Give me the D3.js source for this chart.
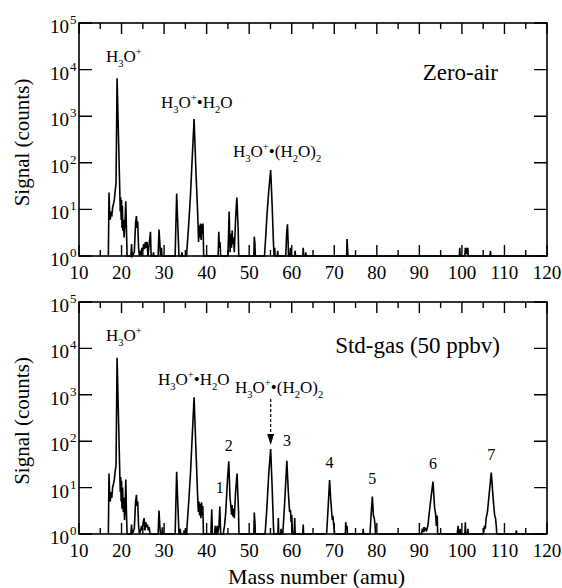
<!DOCTYPE html>
<html>
<head>
<meta charset="utf-8">
<script src="https://cdn.jsdelivr.net/npm/d3@7"></script>
<style>
  body { margin: 0; background: #fff; }
  text { font-family: 'Liberation Serif', 'Times New Roman', Times, 'DejaVu Serif', serif; }
</style>
</head>
<body>
<div id="chart"></div>
<script>
// x ticks (amu) and y decades
const massTicks = [10, 20, 30, 40, 50, 60, 70, 80, 90, 100, 110, 120];
const decades = [0, 1, 2, 3, 4, 5];

// Zero-air spectrum (values < 1 sit on the axis floor)
const zeroMass = [
  16.9, 17.05, 17.2, 17.35, 17.5, 17.7, 17.9, 18.1, 18.3, 18.5, 18.7, 18.95,
  19.6, 19.7, 19.8, 19.9, 20.0, 20.1, 20.2, 20.3, 20.45, 20.6, 20.8, 21.0, 21.15, 21.3,
  22.2, 22.35, 22.5, 23.0, 23.3, 23.5, 23.65, 23.8, 24.0, 24.2, 24.4, 24.6, 24.8, 25.0,
  25.2, 25.4, 25.6, 25.8, 26.0, 26.2, 26.8, 26.95, 27.4, 27.5, 27.6, 28.6, 28.8, 29.0,
  29.15, 29.4, 29.5, 32.6, 32.95, 33.3, 33.5, 34.1, 34.2, 34.3, 35.3, 35.4, 35.8, 36.2,
  36.6, 37.05, 37.5, 37.9, 38.1, 38.25, 38.4, 38.55, 38.7, 38.85, 39.0, 39.15, 39.3,
  42.7, 42.85, 43.0, 43.15, 43.3, 45.0, 45.3, 45.5, 45.7, 45.85, 46.0, 46.15, 46.3,
  46.5, 46.8, 47.1, 47.4, 47.55, 51.1, 51.2, 51.35, 51.45, 53.6, 53.9, 54.2, 54.6,
  55.05, 55.4, 55.7, 55.85, 56.0, 56.1, 56.6, 56.7, 56.8, 58.6, 58.8, 59.0, 59.15,
  59.25, 59.6, 59.7, 59.8, 60.7, 60.8, 60.9, 62.6, 62.7, 62.8, 63.2, 63.3, 63.4,
  72.9, 73.0, 73.15, 73.25, 99.4, 99.5, 99.6, 100.7, 100.8, 100.9, 101.0, 101.1,
  101.2, 101.3, 101.4, 101.5, 106.6, 106.7, 106.8, 120
];
const zeroCounts = [
  0.5, 23, 8, 6, 9, 7, 11, 13, 16, 25, 35, 6500,
  22, 9, 18, 6, 16, 4, 12, 3.5, 6, 2.5, 5, 15, 4, 0.5,
  0.5, 1.8, 0.5, 1.2, 5, 7.2, 4, 5.5, 1.5, 0.5, 1.2, 1.1, 1.5, 1.3,
  1.8, 1.4, 2.0, 1.5, 2.0, 0.5, 3.3, 0.5, 0.5, 1.2, 0.5, 0.5, 3.7, 2.0,
  0.5, 1.5, 0.5, 0.5, 22, 3, 0.5, 0.5, 1.2, 0.5, 0.5, 1.5, 5, 20,
  120, 870, 60, 8, 2, 4.5, 2.5, 5, 2.2, 4.8, 3, 5, 0.5,
  0.5, 3.3, 1.5, 2.0, 0.5, 0.5, 9, 1.2, 3, 1.5, 3.5, 1.8, 2.5,
  1.2, 6, 18, 4, 0.5, 0.5, 2.6, 1.8, 0.5, 0.5, 2.7, 8, 25,
  70, 12, 2, 0.5, 1.5, 0.5, 0.5, 1.3, 0.5, 0.5, 3, 4.8, 2,
  0.5, 0.5, 1.5, 0.5, 0.5, 1.3, 0.5, 0.5, 1.5, 0.5, 0.5, 1.2, 0.5,
  0.5, 2.3, 1.3, 0.5, 0.5, 1.5, 0.5, 0.5, 1.5, 1.1, 1.5, 1.1,
  1.5, 1.1, 1.5, 0.5, 0.5, 1.3, 0.5, 0.5
];

// Std-gas (50 ppbv) spectrum
const stdMass = [
  16.9, 17.05, 17.2, 17.35, 17.5, 17.7, 17.9, 18.1, 18.3, 18.5, 18.7, 18.95,
  19.6, 19.7, 19.8, 19.9, 20.0, 20.1, 20.25, 20.4, 20.55, 20.7, 20.85, 21.0, 21.15, 21.3,
  22.2, 22.35, 22.5, 23.0, 23.3, 23.5, 23.65, 23.8, 24.0, 24.2, 24.5, 24.7, 24.9, 25.1,
  25.3, 25.5, 25.7, 25.9, 26.1, 26.3, 26.5, 26.7, 28.6, 28.8, 29.0, 29.15, 29.5, 29.6,
  29.7, 32.6, 32.95, 33.3, 33.5, 33.7, 33.8, 33.9, 34.6, 34.7, 34.8, 35.3, 35.4, 35.8,
  36.2, 36.6, 37.05, 37.5, 37.9, 38.05, 38.2, 38.35, 38.5, 38.65, 38.8, 38.95, 39.1,
  39.25, 41.0, 41.2, 41.35, 41.9, 42.0, 42.1, 42.35, 42.45, 42.6, 42.9, 43.1, 43.3,
  43.9, 44.2, 44.5, 44.9, 45.2, 45.5, 45.7, 45.85, 46.0, 46.15, 46.3, 46.5, 46.8,
  47.15, 47.5, 47.6, 51.1, 51.2, 51.35, 51.45, 53.7, 53.8, 54.1, 54.6, 55.05, 55.4,
  55.7, 55.8, 56.75, 56.85, 56.95, 57.4, 57.5, 57.6, 57.9, 58.3, 58.85, 59.2, 59.5,
  59.7, 59.85, 60.0, 60.2, 60.6, 60.7, 60.8, 62.6, 62.7, 62.8, 68.2, 68.5, 68.9,
  69.2, 69.5, 69.7, 69.9, 70.1, 72.6, 72.7, 72.85, 73.0, 73.1, 76.7, 76.8, 76.9,
  78.4, 78.7, 78.95, 79.2, 79.4, 79.6, 79.7, 90.5, 90.7, 90.9, 91.1, 91.3, 91.5,
  91.7, 92.0, 92.5, 93.2, 93.6, 93.8, 94.0, 94.2, 94.3, 98.9, 99.1, 99.2, 99.5,
  99.6, 99.7, 100.7, 100.8, 100.9, 101.3, 101.4, 101.5, 105.1, 105.3, 105.5, 105.7,
  106.0, 106.9, 107.4, 107.7, 107.9, 108.1, 108.2, 112.7, 112.8, 112.9, 120
];
const stdCounts = [
  0.5, 20, 7, 5, 8, 6, 10, 12, 15, 22, 30, 6300,
  18, 8, 17, 5, 14, 3.5, 10, 3, 6, 2, 4, 15, 3, 0.5,
  0.5, 1.6, 0.5, 1.3, 5, 7, 4, 5, 1.5, 0.5, 1.2, 1.5, 1.2, 1.8,
  2.2, 1.2, 1.8, 1.4, 1.6, 1.2, 1.4, 0.5, 0.5, 3.2, 1.5, 0.5, 0.5, 1.4,
  0.5, 0.5, 22, 3, 0.5, 0.5, 1.3, 0.5, 0.5, 1.2, 0.5, 0.5, 1.5, 5,
  20, 120, 880, 60, 6, 3, 5, 2.5, 4.5, 2.2, 4.8, 2.5, 4,
  0.5, 0.5, 3.4, 0.5, 0.5, 1.5, 0.5, 0.5, 1.5, 0.5, 1.5, 3.9, 0.5,
  0.5, 1.5, 3, 15, 37, 6, 4, 2.6, 4.2, 2.4, 3.5, 2.2, 8,
  20, 3, 0.5, 0.5, 2.9, 1.8, 0.5, 0.5, 1.2, 3, 20, 68, 10,
  1.5, 0.5, 0.5, 2.2, 0.5, 0.5, 1.3, 0.5, 0.5, 4, 38, 8, 3,
  3.3, 1.8, 2.6, 0.5, 0.5, 2.2, 0.5, 0.5, 1.6, 0.5, 0.5, 3, 14.5,
  5, 2.2, 2.3, 1.5, 0.5, 0.5, 1.8, 1.2, 1.5, 0.5, 0.5, 1.3, 0.5,
  0.5, 3, 6.4, 2.5, 2.2, 1.5, 0.5, 0.5, 1.3, 1.1, 1.4, 1.2, 1.3,
  1.2, 1.5, 4, 13.4, 3.5, 2.8, 1.5, 2.5, 0.5, 0.5, 1.5, 0.5, 0.5,
  1.3, 0.5, 0.5, 1.8, 0.5, 0.5, 1.3, 0.5, 0.5, 1.5, 1.3, 2.2,
  3, 21, 5, 2.5, 2.2, 1.4, 0.5, 0.5, 1.2, 0.5, 0.5
];

// numbered compound peaks in the std-gas panel
const peakIds = ['1', '2', '3', '4', '5', '6', '7'];
const peakMass = [43.1, 45.2, 58.9, 68.9, 78.95, 93.2, 106.9];
const peakLabelCounts = [7.5, 60, 80, 27, 12, 25, 40];

const width = 562, height = 588;
const left = 79, right = 547;
const serif = "'Liberation Serif', 'Times New Roman', Times, 'DejaVu Serif', serif";

const svg = d3.select('#chart').append('svg')
  .attr('width', width)
  .attr('height', height)
  .attr('font-family', serif);

const x = d3.scaleLinear().domain([10, 120]).range([left, right]);

function richText(g, px, py, parts, size, anchor) {
  const t = g.append('text')
    .attr('x', px).attr('y', py)
    .attr('font-size', size)
    .attr('text-anchor', anchor || 'start');
  let off = 0;
  parts.forEach(([s, k]) => {
    const target = k === 'sub' ? size * 0.3 : k === 'sup' ? -size * 0.42 : 0;
    t.append('tspan')
      .attr('dy', target - off)
      .attr('font-size', k === 'n' ? size : size * 0.62)
      .text(s);
    off = target;
  });
  return t;
}

const h3o = [['H', 'n'], ['3', 'sub'], ['O', 'n'], ['+', 'sup']];
const h3oH2o = h3o.concat([['\u2022', 'n'], ['H', 'n'], ['2', 'sub'], ['O', 'n']]);
const h3oH2o2 = h3o.concat([['\u2022', 'n'], ['(H', 'n'], ['2', 'sub'], ['O)', 'n'], ['2', 'sub']]);

function drawPanel(top, bottom, mass, counts) {
  const y = d3.scaleLog().domain([1, 1e5]).range([bottom, top]).clamp(true);
  const g = svg.append('g');

  // inward ticks
  const minor = d3.range(15, 120, 10);
  g.selectAll('.xt').data(massTicks.concat(minor)).enter().append('path')
    .attr('d', d => {
      const len = d % 10 === 0 ? 11 : 6;
      return `M${x(d)},${top}v${len}M${x(d)},${bottom}v${-len}`;
    })
    .attr('stroke', '#000').attr('stroke-width', 1.4);
  g.selectAll('.yt').data(decades).enter().append('path')
    .attr('d', d => `M${left},${y(10 ** d)}h13M${right},${y(10 ** d)}h-13`)
    .attr('stroke', '#000').attr('stroke-width', 1.4);

  // spectrum
  const line = d3.line().x(d => x(d[0])).y(d => y(d[1]));
  g.append('path')
    .datum(mass.map((m, i) => [m, counts[i]]))
    .attr('d', line)
    .attr('fill', 'none')
    .attr('stroke', '#000')
    .attr('stroke-width', 1.6)
    .attr('stroke-linejoin', 'miter');

  g.append('rect')
    .attr('x', left).attr('y', top)
    .attr('width', right - left).attr('height', bottom - top)
    .attr('fill', 'none').attr('stroke', '#000').attr('stroke-width', 1.6);

  // tick labels
  g.selectAll('.xl').data(massTicks).enter().append('text')
    .attr('x', d => x(d)).attr('y', bottom + 23)
    .attr('text-anchor', 'middle').attr('font-size', 19)
    .text(d => d);
  decades.forEach(d => {
    g.append('text').attr('x', 69).attr('y', y(10 ** d) + 10)
      .attr('text-anchor', 'end').attr('font-size', 19).text('10');
    g.append('text').attr('x', 70).attr('y', y(10 ** d) + 1)
      .attr('font-size', 13).text(d);
  });

  g.append('text')
    .attr('transform', `translate(29,${(top + bottom) / 2 + 3}) rotate(-90)`)
    .attr('text-anchor', 'middle').attr('font-size', 21)
    .text('Signal (counts)');
  return { g, y };
}

// top: Zero-air
const p1 = drawPanel(23, 256, zeroMass, zeroCounts);
richText(p1.g, 106, 62, h3o, 17);
richText(p1.g, 161, 108, h3oH2o, 17);
richText(p1.g, 233, 157, h3oH2o2, 17);
p1.g.append('text').attr('x', 498).attr('y', 80)
  .attr('text-anchor', 'end').attr('font-size', 23).text('Zero-air');

// bottom: Std-gas
const p2 = drawPanel(302, 534, stdMass, stdCounts);
richText(p2.g, 106, 341, h3o, 17);
richText(p2.g, 158, 385, h3oH2o, 17);
richText(p2.g, 235, 393, h3oH2o2, 17);
p2.g.append('text').attr('x', 500).attr('y', 353)
  .attr('text-anchor', 'end').attr('font-size', 23).text('Std-gas (50 ppbv)');

// dashed arrow onto m/z 55
const ax = x(55.05);
p2.g.append('line')
  .attr('x1', ax).attr('x2', ax).attr('y1', 399).attr('y2', 436)
  .attr('stroke', '#000').attr('stroke-width', 1.2).attr('stroke-dasharray', '3,2');
p2.g.append('path')
  .attr('d', `M${ax - 3.5},${434}L${ax + 3.5},${434}L${ax},${445}Z`)
  .attr('fill', '#000');

p2.g.selectAll('.pk').data(peakIds).enter().append('text')
  .attr('x', (d, i) => x(peakMass[i]))
  .attr('y', (d, i) => p2.y(peakLabelCounts[i]))
  .attr('text-anchor', 'middle').attr('font-size', 16)
  .text(d => d);

svg.append('text').attr('x', 228).attr('y', 584)
  .attr('font-size', 22)
  .text('Mass number (amu)');
</script>
</body>
</html>
